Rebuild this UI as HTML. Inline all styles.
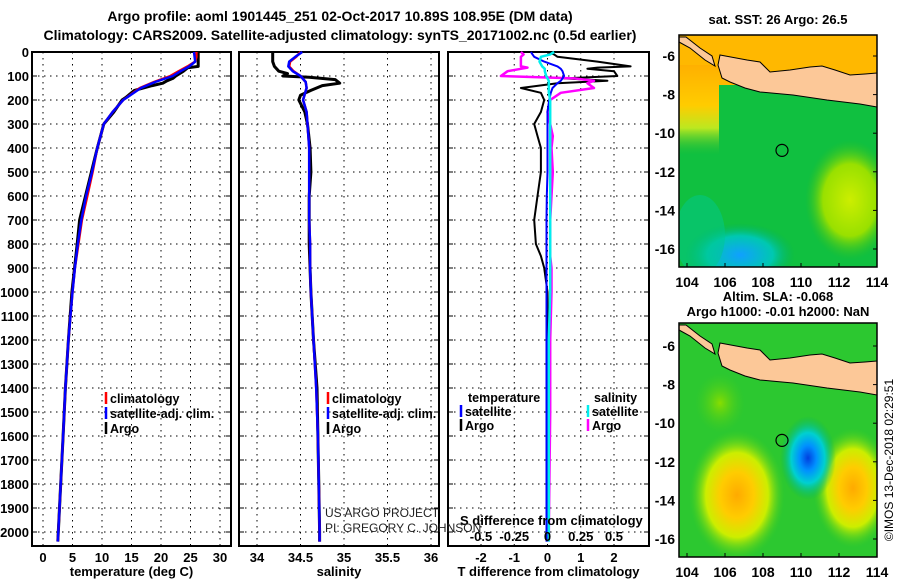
<!DOCTYPE html>
<html><head><meta charset="utf-8"><style>
body{margin:0;background:#fff}
svg{display:block;font-family:"Liberation Sans",sans-serif}
.b{font-weight:bold;font-size:13px}
.lg{font-weight:bold;font-size:12.5px}
</style></head><body>
<svg id="fig" width="900" height="580" viewBox="0 0 900 580" xmlns="http://www.w3.org/2000/svg">
<defs>
<radialGradient id="gY1" cx="0.5" cy="0.5" r="0.5"><stop offset="0" stop-color="#ccee00"/><stop offset="0.6" stop-color="#99e000"/><stop offset="1" stop-color="#30c020" stop-opacity="0"/></radialGradient>
<radialGradient id="gB1" cx="0.5" cy="0.5" r="0.5"><stop offset="0" stop-color="#10a0ff"/><stop offset="0.6" stop-color="#00c8b0"/><stop offset="1" stop-color="#00b060" stop-opacity="0"/></radialGradient>
<radialGradient id="gO" cx="0.5" cy="0.5" r="0.5"><stop offset="0" stop-color="#ffaa00"/><stop offset="0.35" stop-color="#ffcc00"/><stop offset="0.65" stop-color="#ccee00"/><stop offset="1" stop-color="#40cc20" stop-opacity="0"/></radialGradient>
<radialGradient id="gB2" cx="0.5" cy="0.5" r="0.5"><stop offset="0" stop-color="#0040e0"/><stop offset="0.3" stop-color="#0090ff"/><stop offset="0.6" stop-color="#00d0d0"/><stop offset="1" stop-color="#00b060" stop-opacity="0"/></radialGradient>
<radialGradient id="gL" cx="0.5" cy="0.5" r="0.5"><stop offset="0" stop-color="#88dd00"/><stop offset="1" stop-color="#40cc20" stop-opacity="0"/></radialGradient>
<linearGradient id="gLeft" x1="0" y1="0" x2="0" y2="1"><stop offset="0" stop-color="#ffb000"/><stop offset="0.45" stop-color="#ffcc00"/><stop offset="0.7" stop-color="#bbe820"/><stop offset="1" stop-color="#30c030" stop-opacity="0"/></linearGradient>
<clipPath id="c1"><rect x="679" y="35" width="198" height="232"/></clipPath>
<clipPath id="c2"><rect x="679" y="323" width="198" height="234"/></clipPath>
</defs>
<text x="340" y="21" text-anchor="middle" class="b" style="font-size:14px">Argo profile: aoml 1901445_251 02-Oct-2017 10.89S 108.95E (DM data)</text>
<text x="340" y="40" text-anchor="middle" class="b" style="font-size:14px">Climatology: CARS2009. Satellite-adjusted climatology: synTS_20171002.nc (0.5d earlier)</text>
<g id="panels"></g>
<g id="maps"></g>
<text transform="translate(893,460) rotate(-90)" text-anchor="middle" style="font-size:12px">©IMOS 13-Dec-2018 02:29:51</text>
</svg>
<script>
// ---- data ----
const climDepth=[0,20,40,60,80,100,125,150,175,200,250,300,400,500,600,700,800,900,1000,1200,1400,1600,1800,2000,2040];
const climT=[26,26,25.8,24.5,23,21.6,18.8,16.4,15,13.6,11.8,10.3,9.2,8.4,7.5,6.6,6.0,5.4,5.0,4.3,3.8,3.4,3.0,2.6,2.5];
const satT=[25.6,25.7,25.8,24.8,23.3,22.0,19.0,16.6,15.1,13.6,11.8,10.3,9.2,8.3,7.3,6.5,5.9,5.4,5.0,4.3,3.8,3.4,3.0,2.6,2.5];
const climS=[34.5,34.45,34.38,34.37,34.42,34.5,34.56,34.57,34.55,34.53,34.57,34.58,34.6,34.6,34.6,34.6,34.61,34.61,34.62,34.65,34.68,34.7,34.71,34.72,34.72];
const satS=[34.52,34.44,34.37,34.36,34.41,34.5,34.56,34.57,34.55,34.53,34.57,34.58,34.6,34.6,34.6,34.6,34.61,34.61,34.62,34.65,34.68,34.7,34.71,34.72,34.72];
const argoTDepth=[0,20,40,60,66,80,100,110,120,130,140,160,190,200,250,300,400,500,600,700,800,1000,1200,1400,1600,1800,2000,2040];
const argoT=[26.3,26.3,26.3,26.3,24.5,23.8,22.5,22,21,20.3,18.5,15.5,14,13.4,12,10.3,9.2,8.2,7.2,6.2,5.8,4.9,4.3,3.8,3.4,3.0,2.6,2.5];
const argoSDepth=[0,20,40,60,80,90,100,105,115,130,140,160,180,200,250,300,400,500,600,700,800,1000,1200,1400,1600,1800,2000,2040];
const argoS=[34.18,34.18,34.18,34.2,34.25,34.35,34.3,34.6,34.9,34.95,34.75,34.62,34.5,34.48,34.55,34.58,34.61,34.62,34.6,34.6,34.6,34.62,34.65,34.69,34.7,34.71,34.72,34.72];
const dDepth=[0,10,20,40,60,65,70,80,100,110,120,130,150,170,200,250,300,350,400,500,600,700,800,850,900,1000,1200,1500,2000,2040];
const tDiffArgo=[0,0.2,0.3,1.5,2.5,1.5,1.2,2.0,2.1,0.5,1.8,0.3,-0.8,-0.2,-0.1,-0.2,-0.4,-0.3,-0.2,-0.2,-0.3,-0.4,-0.35,-0.2,-0.1,0,0.02,0,0,0];
const tDiffSat=[-0.5,-0.45,-0.4,-0.1,0.3,0.35,0.4,0.45,0.5,0.45,0.4,0.3,0.15,0.1,0.05,0,0,0,0,0,-0.02,-0.03,-0.03,-0.03,-0.03,-0.03,-0.03,-0.03,-0.03,-0.03];
const sDiffArgo=[-0.2,-0.18,-0.2,-0.2,-0.2,-0.15,-0.2,-0.3,-0.35,0.2,0.35,0.3,0.35,0.1,0.02,0,0.02,0.04,0.03,0.04,0.03,0.02,0.02,0.02,0.03,0.03,0.02,0.02,0.01,0.01];
const sDiffSat=[0.05,0.02,-0.05,-0.06,-0.04,-0.03,-0.02,-0.02,-0.01,0,0.01,0.01,0.01,0.01,0.02,0.02,0.02,0.02,0.02,0.02,0.02,0.02,0.02,0.02,0.02,0.02,0.01,0.01,0.01,0.01];
const depthTicks=[0,100,200,300,400,500,600,700,800,900,1000,1100,1200,1300,1400,1500,1600,1700,1800,1900,2000];
const tTicks=[0,5,10,15,20,25,30];
const sTicks=[34,34.5,35,35.5,36];
const dTTicks=[-2,-1,0,1,2];
const dSTicks=[-0.5,-0.25,0,0.25,0.5];
const dSTickLabels=["-0.5","-0.25","0","0.25","0.5"];
// ---- drawing ----
const NS="http://www.w3.org/2000/svg";
const P=document.getElementById('panels');
function mk(tag,attrs,parent,txt){const e=document.createElementNS(NS,tag);for(const k in attrs)e.setAttribute(k,attrs[k]);if(txt!==undefined)e.textContent=txt;(parent||P).appendChild(e);return e;}
const top0=52,bot=546;
const yD=d=>top0+d*0.24;
const panels=[
 {x0:32,x1:231,xs:v=>43+v*5.9,ticks:tTicks,lab:"temperature (deg C)",name:"temperature"},
 {x0:239,x1:439,xs:v=>257+(v-34)*87,ticks:sTicks,lab:"salinity",name:"salinity"},
 {x0:448,x1:649,xs:v=>547.5+v*33.25,ticks:dTTicks,lab:"T difference from climatology",name:"difference"}];
panels.forEach((p,i)=>{
 const g=mk('g',{});
 
 
 depthTicks.forEach(d=>{const l=mk('line',{x1:p.x0,x2:p.x1,y1:yD(d),y2:yD(d),stroke:'#000','stroke-dasharray':'1.5,4.5'},g);
  
  mk('line',{x1:p.x0,x2:p.x0+5,y1:yD(d),y2:yD(d),stroke:'#000'},g);mk('line',{x1:p.x1-5,x2:p.x1,y1:yD(d),y2:yD(d),stroke:'#000'},g);});
 p.ticks.forEach(v=>{const x=p.xs(v);const l=mk('line',{x1:x,x2:x,y1:top0,y2:bot,stroke:'#000','stroke-dasharray':'1.5,4.5'},g);
  
  const t=mk('text',{x:x,y:562,'text-anchor':'middle',class:'b'},g,String(v));
  });
 const fr=mk('rect',{x:p.x0,y:top0,width:p.x1-p.x0,height:bot-top0,fill:'none',stroke:'#000','stroke-width':2},g);
 
 const xl=mk('text',{x:(p.x0+p.x1)/2,y:576,'text-anchor':'middle',class:'b'},g,p.lab);
 
});
depthTicks.forEach(d=>{const t=mk('text',{x:29,y:yD(d)+5,'text-anchor':'end',class:'b'},P,String(d));
 });
function line(xs,depths,vals,color,w,name){
 const pts=depths.map((d,i)=>xs(vals[i]).toFixed(1)+','+yD(Math.min(d,2040)).toFixed(1)).join(' ');
 const l=mk('polyline',{points:pts,fill:'none',stroke:color,'stroke-width':w,'stroke-linejoin':'round'});
 }
const [pT,pS,pD]=panels;
line(pT.xs,argoTDepth,argoT,'#000',3,'argo-temperature-line');
line(pT.xs,climDepth,climT,'#f00',2.5,'climatology-temperature-line');
line(pT.xs,climDepth,satT,'#00f',2.5,'satellite-temperature-line');
line(pS.xs,argoSDepth,argoS,'#000',3,'argo-salinity-line');
line(pS.xs,climDepth,climS,'#f00',2.5,'climatology-salinity-line');
line(pS.xs,climDepth,satS,'#00f',2.5,'satellite-salinity-line');
const sx=v=>547.5+v*133;
line(pD.xs,dDepth,tDiffArgo,'#000',2,'argo-temperature-difference-line');
line(sx,dDepth,sDiffArgo,'#f0f',2.5,'argo-salinity-difference-line');
line(pD.xs,dDepth,tDiffSat,'#00f',2,'satellite-temperature-difference-line');
line(sx,dDepth,sDiffSat,'#0ee',2.5,'satellite-salinity-difference-line');
const st=mk('text',{x:460,y:525,class:'b'},P,'S difference from climatology');

dSTicks.forEach((v,i)=>{const t=mk('text',{x:sx(v),y:541,'text-anchor':'middle',class:'b'},P,dSTickLabels[i]);
 });
function leg(x,y,color,txt,name){const g=mk('g',{});
 mk('line',{x1:x,x2:x,y1:y-11,y2:y+1,stroke:color,'stroke-width':2.5},g);mk('text',{x:x+4,y:y,class:'lg'},g,txt);}
leg(106,403,'#f00','climatology','legend-climatology');leg(106,418,'#00f','satellite-adj. clim.','legend-satellite');leg(106,433,'#000','Argo','legend-argo');
leg(328,403,'#f00','climatology','legend-climatology-salinity');leg(328,418,'#00f','satellite-adj. clim.','legend-satellite-salinity');leg(328,433,'#000','Argo','legend-argo-salinity');
const lt=mk('text',{x:468,y:402,class:'lg'},P,'temperature');
const ls=mk('text',{x:594,y:402,class:'lg'},P,'salinity');
leg(461,416,'#00f','satellite','legend-temp-satellite');leg(461,430,'#000','Argo','legend-temp-argo');
leg(588,416,'#0ee','satellite','legend-sal-satellite');leg(588,430,'#f0f','Argo','legend-sal-argo');
const c1=mk('text',{x:325,y:517,style:'font-size:12px;fill:#222'},P,'US ARGO PROJECT');
const c2=mk('text',{x:325,y:532,style:'font-size:12px;fill:#222'},P,'PI: GREGORY C. JOHNSON');
// ---- maps ----
const M=document.getElementById('maps');
const lonTicks=[104,106,108,110,112,114];
const latTicks=[-6,-8,-10,-12,-14,-16];
const lonX=lon=>687+(lon-104)*19;
const java=[[720,55],[747,60],[760,62],[770,72],[790,70],[810,67],[822,66],[835,70],[850,75],[865,74],[877,73],[877,107],[860,104],[827,100],[793,95],[760,92],[745,88],[730,82],[722,78],[718,65]];
const sumatra=[[679,37],[686,37],[700,48],[712,56],[715,66],[705,60],[690,48],[679,42]];
function map(y0,latY,isSLA,title){
 const g=mk('g',{},M);
 const inner=mk('g',{'clip-path':isSLA?'url(#c2)':'url(#c1)'},g);
 if(!isSLA){
  mk('rect',{x:679,y:y0,width:198,height:232,fill:'#10c040'},inner);
  mk('rect',{x:679,y:y0,width:198,height:50,fill:'#ffb800'},inner);
  mk('rect',{x:679,y:y0+30,width:40,height:90,fill:'url(#gLeft)'},inner);
  mk('ellipse',{cx:850,cy:y0+165,rx:45,ry:60,fill:'url(#gY1)'},inner);
  mk('ellipse',{cx:740,cy:y0+220,rx:55,ry:32,fill:'url(#gB1)'},inner);
  mk('ellipse',{cx:700,cy:y0+200,rx:25,ry:40,fill:'#00c890',opacity:0.5},inner);
 } else {
  mk('rect',{x:679,y:y0,width:198,height:234,fill:'#2cc830'},inner);
  mk('ellipse',{cx:720,cy:y0+80,rx:25,ry:30,fill:'url(#gL)'},inner);
  mk('ellipse',{cx:737,cy:y0+172,rx:48,ry:65,fill:'url(#gO)'},inner);
  mk('ellipse',{cx:853,cy:y0+165,rx:40,ry:60,fill:'url(#gO)'},inner);
  mk('ellipse',{cx:808,cy:y0+135,rx:28,ry:42,fill:'url(#gB2)'},inner);
 }
 const off=y0-35;
 [java,sumatra].forEach((poly,k)=>{
  const land=mk('polygon',{points:poly.map(p=>p[0]+','+(p[1]+off)).join(' '),fill:'#fcc898',stroke:'#000','stroke-width':1},inner);
  });
 const ci=mk('circle',{cx:782,cy:latY(-10.89),r:6,fill:'none',stroke:'#000','stroke-width':1.2},g);
 
 const h=isSLA?234:232;
 mk('rect',{x:679,y:y0,width:198,height:h,fill:'none',stroke:'#000','stroke-width':1.5},g);
 lonTicks.forEach(v=>{mk('line',{x1:lonX(v),x2:lonX(v),y1:y0+h,y2:y0+h-4,stroke:'#000'},g);
  const t=mk('text',{x:lonX(v),y:y0+h+20,'text-anchor':'middle',class:'b',style:'font-size:14px'},g,String(v));
  });
 latTicks.forEach(v=>{mk('line',{x1:877,x2:873,y1:latY(v),y2:latY(v),stroke:'#000'},g);
  const t=mk('text',{x:675,y:latY(v)+5,'text-anchor':'end',class:'b',style:'font-size:14px'},g,String(v));
  });
 title.forEach((s,i)=>{const t=mk('text',{x:778,y:(isSLA?301:24)+i*15,'text-anchor':'middle',class:'b'},g,s);
  });
}
map(35,lat=>56+(-6-lat)*19.3,false,['sat. SST: 26 Argo: 26.5']);
map(323,lat=>346+(-6-lat)*19.3,true,['Altim. SLA: -0.068','Argo h1000: -0.01 h2000: NaN']);
</script>
</body></html>
